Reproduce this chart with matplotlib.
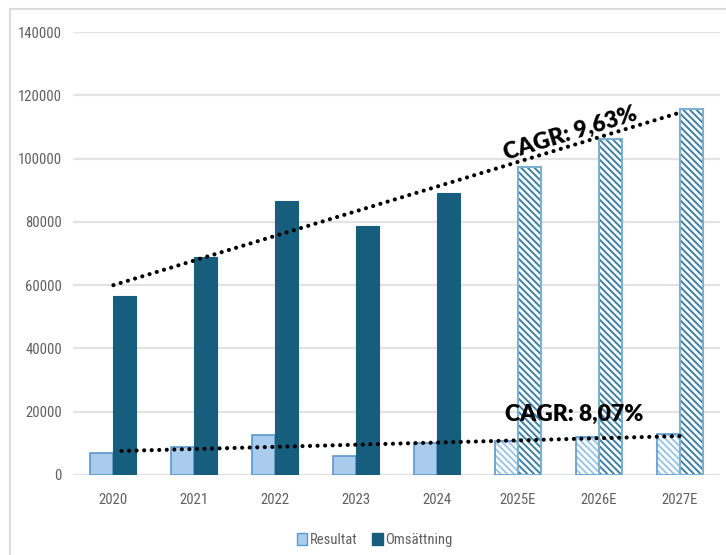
import matplotlib
matplotlib.use("Agg")
import matplotlib.pyplot as plt
from matplotlib import font_manager
from matplotlib.lines import Line2D
from matplotlib.patches import Patch
import numpy as np

years = ["2020", "2021", "2022", "2023", "2024", "2025E", "2026E", "2027E"]
resultat = [7000, 8900, 12500, 6100, 10200, 10700, 11900, 13000]
omsattning = [56500, 68900, 86600, 78800, 89200, 97400, 106200, 115700]
forecast = [False, False, False, False, False, True, True, True]

# trend line end values (first and last year)
trend_oms = [60000, 114500]
trend_res = [7600, 12300]
cagr_oms = "CAGR: 9,63%"
cagr_res = "CAGR: 8,07%"

c_oms = "#175d7d"
c_res = "#a9cced"
c_res_edge = "#5d98cc"
c_fc_edge = "#7ab0d0"
grid_c = "#e3e3e3"
tick_c = "#5f5f5f"


def narrow_family():
    """Pick a condensed sans family if one is installed."""
    names = {f.name for f in font_manager.fontManager.ttflist}
    for cand in ["Liberation Sans Narrow", "Roboto Condensed", "Open Sans Condensed",
                 "Noto Sans Condensed", "DejaVu Sans Condensed", "Arial Narrow"]:
        if cand in names:
            return cand
    for f in font_manager.fontManager.ttflist:
        if "Narrow" in f.name or "Condensed" in f.name:
            return f.name
    return "DejaVu Sans"


tick_font = [narrow_family(), "DejaVu Sans"]

plt.rcParams["hatch.linewidth"] = 1.4

fig = plt.figure(figsize=(7.26, 5.55), dpi=100)
ax = fig.add_axes([73 / 726, 1 - 475 / 555, (720 - 73) / 726, (475 - 32) / 555])

# light frame along the top and left edges
frame_y = 1 - 9 / 555
frame_x = 10 / 726
fig.lines.append(Line2D([frame_x, 1.0], [frame_y, frame_y], transform=fig.transFigure,
                        color="#dcdcdc", linewidth=1.5))
fig.lines.append(Line2D([frame_x, frame_x], [0, frame_y], transform=fig.transFigure,
                        color="#dcdcdc", linewidth=1.5))

x = np.arange(len(years))
w = 0.285
for i in range(len(years)):
    if not forecast[i]:
        ax.bar(x[i] - w / 2, resultat[i], w, color=c_res, edgecolor=c_res_edge,
               linewidth=1.2, zorder=3)
        ax.bar(x[i] + w / 2, omsattning[i], w, color=c_oms, edgecolor=c_oms,
               linewidth=0.8, zorder=3)
    else:
        ax.bar(x[i] - w / 2, resultat[i], w, color="white", edgecolor="#9cc5e6",
               hatch="\\\\\\\\\\", linewidth=0, zorder=3)
        ax.bar(x[i] - w / 2, resultat[i], w, fill=False, edgecolor=c_res_edge,
               linewidth=1.2, zorder=4)
        ax.bar(x[i] + w / 2, omsattning[i], w, color="white", edgecolor="#3f7fa3",
               hatch="\\\\\\\\\\", linewidth=0, zorder=3)
        ax.bar(x[i] + w / 2, omsattning[i], w, fill=False, edgecolor=c_fc_edge,
               linewidth=1.5, zorder=4)

# dotted trend lines
dot = (0, (0.01, 1.8))
ax.plot([x[0], x[-1]], trend_oms, color="black", linestyle=dot, linewidth=3.0,
        dash_capstyle="round", zorder=5)
ax.plot([x[0] + 0.1, x[-1]], trend_res, color="black", linestyle=dot, linewidth=3.0,
        dash_capstyle="round", zorder=5)

ax.text(5.65, 108000, cagr_oms, rotation=17, ha="center", va="center",
        fontsize=16.5, fontweight="heavy", family="Lato", zorder=6)
ax.text(5.7, 19000, cagr_res, ha="center", va="center",
        fontsize=16.5, fontweight="heavy", family="Lato", zorder=6)

ax.set_xlim(-0.5, len(years) - 0.5)
ax.set_ylim(0, 140000)
ax.set_yticks(np.arange(0, 140001, 20000))
ax.set_xticks(x)
ax.set_xticklabels(years)
ax.yaxis.grid(True, color=grid_c, linewidth=1.6, zorder=0)
ax.set_axisbelow(True)
for s in ax.spines.values():
    s.set_visible(False)
ax.tick_params(axis="both", length=0, colors=tick_c, labelsize=10.5)
ax.tick_params(axis="y", pad=8)
ax.tick_params(axis="x", pad=13)
for lab in ax.get_xticklabels() + ax.get_yticklabels():
    lab.set_family(tick_font)

handles = [Patch(facecolor=c_res, edgecolor=c_res_edge, label="Resultat"),
           Patch(facecolor=c_oms, edgecolor=c_oms, label="Omsättning")]
leg = fig.legend(handles=handles, loc="center", bbox_to_anchor=(375 / 726, 1 - 540 / 555),
                 ncol=2, frameon=False, handlelength=0.7, handleheight=0.9,
                 handletextpad=0.2, columnspacing=1.0,
                 prop={"family": tick_font, "size": 10.5})
for t in leg.get_texts():
    t.set_color(tick_c)

fig.savefig("out.png", dpi=100)
